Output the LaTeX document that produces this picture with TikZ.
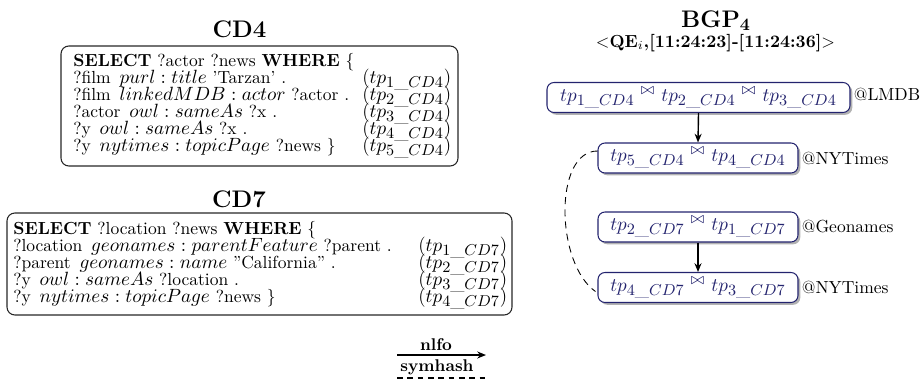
\documentclass[tikz,border=0pt]{standalone}
\usepackage{amssymb}
\usetikzlibrary{shadows,arrows.meta,calc}
\DeclareMathSizes{11}{11}{9}{6}
\definecolor{navyb}{RGB}{35,35,110}
\newcommand{\pxu}{0.5714pt}
\newcommand{\qm}[1]{{\fontsize{11}{13}\selectfont$#1$}}
\newcommand{\tpx}[2]{{\fontsize{11}{13}\selectfont($tp_{#1\_#2}$)}}
\begin{document}
\begin{tikzpicture}[x=\pxu,y=-\pxu,
  ttl/.style={font=\fontsize{13.7}{16}\selectfont\bfseries, inner sep=0},
  qline/.style={anchor=base west, inner sep=0, font=\fontsize{10}{12}\selectfont},
  qbox/.style={draw=black!85, rounded corners=4.5pt, line width=0.6pt, inner sep=0},
  bgpbox/.style={draw=navyb, text=navyb, rounded corners=4pt, fill=white, line width=0.6pt,
    drop shadow={shadow xshift=1.3pt, shadow yshift=-1.3pt, opacity=0.3, fill=black},
    inner sep=0, minimum height={30*\pxu}, font=\fontsize{11}{13}\selectfont},
  tag/.style={anchor=west, inner sep=0, font=\fontsize{10}{12}\selectfont},
  flow/.style={-{Stealth[length=5pt,width=4pt]}, line width=0.8pt},
  sym/.style={dash pattern=on 4pt off 3pt, line width=0.5pt},
  lgd/.style={font=\fontsize{9.7}{11}\selectfont\bfseries, inner sep=0}
]
\useasboundingbox (0,0) rectangle (920,381);

% ---------- CD4 ----------
\node[ttl] (cd4t) at (239.5,29) {CD4};
\node[qbox, minimum width={397*\pxu}, minimum height={120*\pxu}] (cd4) at (259.5,106) {};
\node[qline] (a0) at (73,66) {\textbf{SELECT} ?actor ?news \textbf{WHERE} \{};
\node[qline] (a1) at (73,83) {?film\ \,\qm{purl:title} 'Tarzan' .};
\node[qline] (a2) at (73,100) {?film\ \,\qm{linkedMDB:actor} ?actor .};
\node[qline] (a3) at (73,117) {?actor\ \,\qm{owl:sameAs} ?x .};
\node[qline] (a4) at (73,134) {?y\ \,\qm{owl:sameAs} ?x .};
\node[qline] (a5) at (73,151) {?y\ \,\qm{nytimes:topicPage} ?news \}};
\node[qline] (p1) at (362,83) {\tpx{1}{CD4}};
\node[qline] (p2) at (362,100) {\tpx{2}{CD4}};
\node[qline] (p3) at (362,117) {\tpx{3}{CD4}};
\node[qline] (p4) at (362,134) {\tpx{4}{CD4}};
\node[qline] (p5) at (362,151) {\tpx{5}{CD4}};

% ---------- CD7 ----------
\node[ttl] (cd7t) at (239,199) {CD7};
\node[qbox, minimum width={505*\pxu}, minimum height={102*\pxu}] (cd7) at (259.5,264) {};
\node[qline] (c0) at (13,234) {\textbf{SELECT} ?location ?news \textbf{WHERE} \{};
\node[qline] (c1) at (13,251) {?location\ \,\qm{geonames:parentFeature} ?parent .};
\node[qline] (c2) at (13,268) {?parent\ \,\qm{geonames:name} "California" .};
\node[qline] (c3) at (13,285) {?y\ \,\qm{owl:sameAs} ?location .};
\node[qline] (c4) at (13,302) {?y\ \,\qm{nytimes:topicPage} ?news \}};
\node[qline] (q1) at (418,251) {\tpx{1}{CD7}};
\node[qline] (q2) at (418,268) {\tpx{2}{CD7}};
\node[qline] (q3) at (418,285) {\tpx{3}{CD7}};
\node[qline] (q4) at (418,302) {\tpx{4}{CD7}};

% ---------- BGP4 ----------
\node[ttl, anchor=base] (bgpt) at (716,27) {BGP$_{\mathbf{4}}$};
\node[anchor=base, inner sep=0, font=\fontsize{10}{12}\selectfont\bfseries] (bgps) at (715.5,47)
  {$<$QE$_i$,[11:24:23]-[11:24:36]$>$};

\node[bgpbox, minimum width={303*\pxu}] (b1) at (698.5,97.5)
  {$tp_{1\_CD4}\ {}^{\bowtie}\ tp_{2\_CD4}\ {}^{\bowtie}\ tp_{3\_CD4}$};
\node[bgpbox, minimum width={200*\pxu}] (b2) at (698,158)
  {$tp_{5\_CD4}\ {}^{\bowtie}\ tp_{4\_CD4}$};
\node[bgpbox, minimum width={200*\pxu}] (b3) at (698,227)
  {$tp_{2\_CD7}\ {}^{\bowtie}\ tp_{1\_CD7}$};
\node[bgpbox, minimum width={200*\pxu}] (b4) at (698,287.5)
  {$tp_{4\_CD7}\ {}^{\bowtie}\ tp_{3\_CD7}$};

\node[tag] (t1) at ($(b1.east)+(3,-3)$) {@LMDB};
\node[tag] (t2) at ($(b2.east)+(3,0)$) {@NYTimes};
\node[tag] (t3) at ($(b3.east)+(3,0)$) {@Geonames};
\node[tag] (t4) at ($(b4.east)+(3,0)$) {@NYTimes};

\draw[flow] (b1.south) -- (b2.north);
\draw[flow] (b3.south) -- (b4.north);
\draw[sym] ($(b2.west)+(0,-7)$) .. controls +(-44,0) and +(-40,-28) .. ($(b4.west)+(-2,4)$);

% ---------- legend ----------
\coordinate (la) at (397,355);
\coordinate (lb) at (486,355);
\draw[flow] (la) -- (lb);
\node[lgd] (ln) at (436,345) {nlfo};
\node[lgd] (ls) at (437,367) {symhash};
\coordinate (da) at (397,378);
\coordinate (db) at (486,378);
\draw[dash pattern=on 3.3pt off 2.6pt, line width=0.6pt] (da) -- (db);
\end{tikzpicture}
\end{document}
